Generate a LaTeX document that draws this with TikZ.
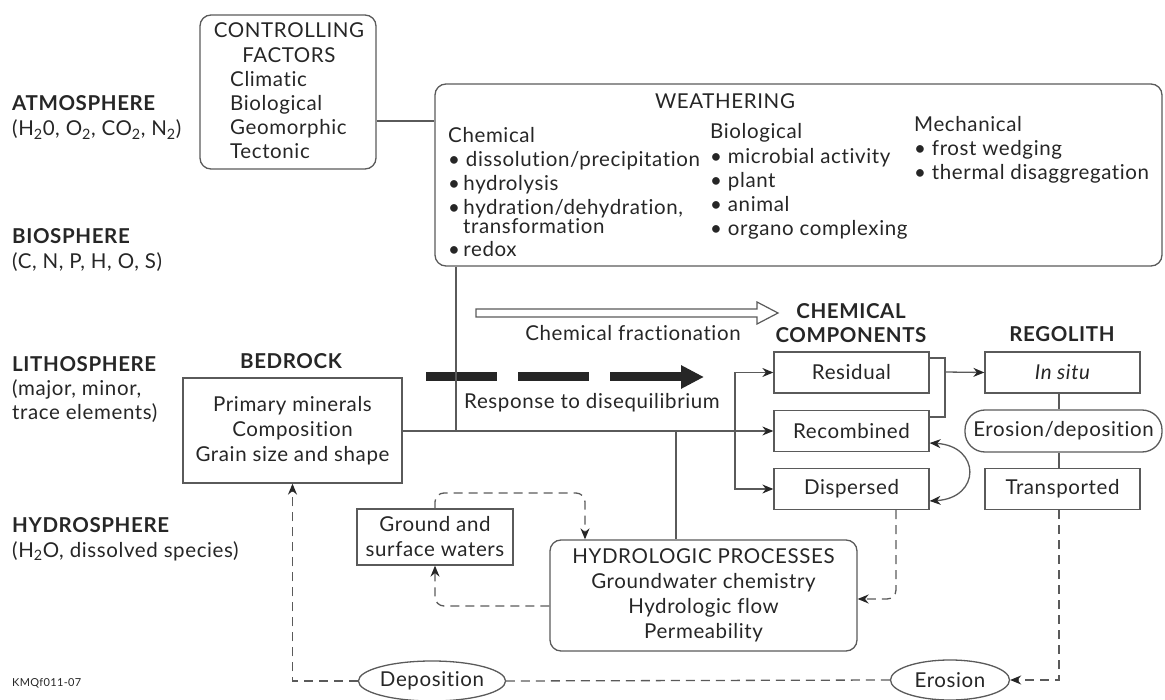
\documentclass[tikz,border=0pt]{standalone}
\usepackage{fontspec}
\setmainfont[Ligatures=NoCommon, LetterSpace=3]{Lato}
\usetikzlibrary{arrows.meta,shapes.geometric}
\definecolor{ln}{HTML}{5A5A5A}
\definecolor{tx}{HTML}{262626}
\newcommand\fsz{\fontsize{20.5}{25}\selectfont}
\begin{document}
\begin{tikzpicture}[x=1pt,y=-1pt,
  txt/.style={inner sep=0pt, text=tx, font=\fsz},
  hd/.style={inner sep=0pt, text=tx, font=\fsz\bfseries},
  box/.style={draw=ln, line width=1.3pt, text=tx, font=\fsz, inner sep=0pt, align=center},
  rbox/.style={box, rounded corners=11pt},
  conn/.style={draw=ln, line width=1.3pt},
  tip/.style={-{Stealth[length=11pt,width=9pt,color=tx]}},
  dsh/.style={conn, dash pattern=on 9pt off 6pt},
]
\useasboundingbox (0,0) rectangle (1165,700);

% left labels
\node[hd, anchor=base west] (atm) at (12,111) {ATMOSPHERE};
\node[txt, anchor=base west] (atmc) at (12,136) {(H\textsubscript{2}0, O\textsubscript{2}, CO\textsubscript{2}, N\textsubscript{2})};
\node[hd, anchor=base west] (bio) at (12,244) {BIOSPHERE};
\node[txt, anchor=base west] (bioc) at (12,269) {(C, N, P, H, O, S)};
\node[hd, anchor=base west] (lith) at (12,372) {LITHOSPHERE};
\node[txt, anchor=base west] (lithc) at (12,396) {(major, minor,};
\node[txt, anchor=base west] (lithd) at (12,420) {trace elements)};
\node[hd, anchor=base west] (hyd) at (12,532) {HYDROSPHERE};
\node[txt, anchor=base west] (hydc) at (12,557) {(H\textsubscript{2}O, dissolved species)};
\node[inner sep=0pt, text=tx, font=\fontsize{11}{13}\selectfont, anchor=base west] (code) at (12,686) {KMQf011-07};

% controlling factors
\node[rbox, minimum width=176pt, minimum height=154pt] (ctrl) at (288,92) {};
\node[txt, anchor=base] (ct1) at (289,38) {CONTROLLING};
\node[txt, anchor=base] (ct2) at (289,63) {FACTORS};
\node[txt, anchor=base west] (ct3) at (230,87) {Climatic};
\node[txt, anchor=base west] (ct4) at (230,111) {Biological};
\node[txt, anchor=base west] (ct5) at (230,135) {Geomorphic};
\node[txt, anchor=base west] (ct6) at (230,159) {Tectonic};

% weathering
\node[rbox, minimum width=727pt, minimum height=182pt] (weath) at (798.5,175) {};
\node[txt, anchor=base] (w0) at (725,109) {WEATHERING};
\node[txt, anchor=base west] (c0) at (448,143) {Chemical};
\node[txt, anchor=base west] (c1) at (448,167) {\textbullet\ dissolution/precipitation};
\node[txt, anchor=base west] (c2) at (448,191) {\textbullet\,hydrolysis};
\node[txt, anchor=base west] (c3) at (448,215) {\textbullet\,hydration/dehydration,};
\node[txt, anchor=base west] (c4) at (463,234) {transformation};
\node[txt, anchor=base west] (c5) at (448,257) {\textbullet\,redox};
\node[txt, anchor=base west] (b0) at (710,139) {Biological};
\node[txt, anchor=base west] (b1) at (710,164) {\textbullet\ microbial activity};
\node[txt, anchor=base west] (b2) at (710,188) {\textbullet\ plant};
\node[txt, anchor=base west] (b3) at (710,212) {\textbullet\ animal};
\node[txt, anchor=base west] (b4) at (710,236) {\textbullet\ organo complexing};
\node[txt, anchor=base west] (m0) at (914,132) {Mechanical};
\node[txt, anchor=base west] (m1) at (914,156) {\textbullet\ frost wedging};
\node[txt, anchor=base west] (m2) at (914,180) {\textbullet\ thermal disaggregation};

\draw[conn] (ctrl.east |- 0,121) -- (weath.west |- 0,121);

% chemical fractionation open arrow
\draw[draw=ln, line width=1.2pt, fill=white] (476,309) -- (757,309) -- (757,302) -- (778,313) -- (757,324) -- (757,317) -- (476,317) -- cycle;
\node[txt, anchor=base] (cf) at (633,341) {Chemical fractionation};

% response arrow
\draw[tx, line width=9pt, dash pattern=on 71pt off 21pt, -{Triangle[length=23pt,width=22pt]}] (426,377) -- (704,377);
\node[txt, anchor=base] (rd) at (592,409) {Response to disequilibrium};

% bedrock
\node[hd, anchor=base] (bedh) at (291,369) {BEDROCK};
\node[box, minimum width=219pt, minimum height=105pt] (bed) at (292.5,430.5) {Primary minerals\\Composition\\Grain size and shape};

% chemical components
\node[hd, anchor=base] (cch1) at (851,319) {CHEMICAL};
\node[hd, anchor=base] (cch2) at (851,343) {COMPONENTS};
\node[box, minimum width=155pt, minimum height=41pt] (res) at (851.5,372.5) {Residual};
\node[box, minimum width=155pt, minimum height=41pt] (rec) at (851.5,431) {Recombined};
\node[box, minimum width=155pt, minimum height=41pt] (dis) at (851.5,489) {Dispersed};

% regolith
\node[hd, anchor=base] (regh) at (1062,342) {REGOLITH};
\node[box, minimum width=155pt, minimum height=41pt, font=\fsz\itshape] (ins) at (1062.5,372.5) {In situ};
\node[box, minimum width=197pt, minimum height=42pt, rounded corners=20pt] (erd) at (1063.5,431) {Erosion/deposition};
\node[box, minimum width=155pt, minimum height=41pt] (trn) at (1062.5,489) {Transported};

% hydrologic
\node[rbox, minimum width=307pt, minimum height=111pt] (hydp) at (703.5,595.5) {HYDROLOGIC PROCESSES\\Groundwater chemistry\\Hydrologic flow\\Permeability};
\node[box, minimum width=156pt, minimum height=56pt] (gw) at (435,537) {Ground and\\surface waters};

% ellipses
\node[box, ellipse, minimum width=119pt, minimum height=40pt] (ero) at (950,680) {Erosion};
\node[box, ellipse, minimum width=135pt, minimum height=40pt] (dep) at (432,681) {Deposition};

% solid connectors
\coordinate (j1) at (456,431);
\coordinate (j2) at (735,431);
\coordinate (j3) at (676,431);
\draw[conn] (weath.south -| j1) -- (j1);
\draw[conn, tip] (bed.east |- j1) -- (rec.west |- j1);
\draw[conn, tip] (j2) |- (res.west);
\draw[conn, tip] (j2) |- (dis.west);
\draw[conn] (j3) -- (hydp.north -| j3);
\coordinate (br) at (945,372);
\draw[conn] (res.east |- 0,358) -| (945,417) -- (rec.east |- 0,417);
\draw[conn, tip] (br) -- (ins.west);
\draw[conn, {Stealth[length=11pt,width=9pt,color=tx]}-{Stealth[length=11pt,width=9pt,color=tx]}] (rec.east |- 0,443) .. controls (981,446) and (981,498) .. (dis.east |- 0,501);
\draw[conn] (ins.south -| 1059,0) -- (erd.north -| 1059,0);
\draw[conn] (erd.south -| 1059,0) -- (trn.north -| 1059,0);

% dashed connectors
\draw[dsh, tip] (trn.south -| 1059,0) |- (ero.east);
\draw[dsh] (ero.west) -- (dep.east);
\draw[dsh, tip] (dep.west) -| (bed.south);
\draw[dsh, tip, rounded corners=9pt] (dis.south -| 896,0) |- (hydp.east |- 0,599);
\draw[dsh, tip, rounded corners=9pt] (gw.north) |- (585,493) -- (hydp.north -| 585,0);
\draw[dsh, tip, rounded corners=9pt] (hydp.west |- 0,606) -| (gw.south);
\end{tikzpicture}
\end{document}
